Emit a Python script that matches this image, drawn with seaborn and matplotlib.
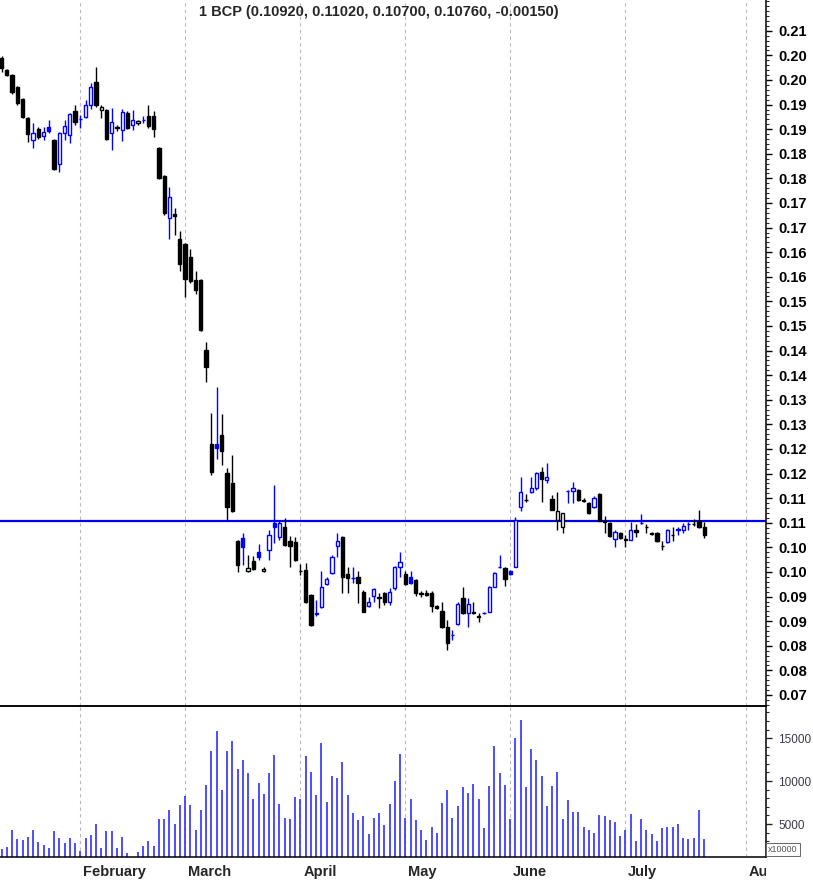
import numpy as np
import pandas as pd
import matplotlib
matplotlib.use('Agg')
import matplotlib.pyplot as plt
import seaborn as sns
from matplotlib.ticker import MultipleLocator, FixedLocator
from matplotlib.transforms import Bbox, TransformedBbox

# BCP daily prices, 13 Jan - 22 Jul 2020 (Euronext Lisbon trading days)
first_day = '2020-01-13'
last_day = '2020-07-22'
holidays = ['2020-04-10', '2020-04-13', '2020-05-01']

open_ = [0.2045, 0.2020, 0.2010, 0.1986, 0.1961, 0.1923, 0.1878, 0.1900, 0.1886, 0.1905,
         0.1878, 0.1829, 0.1893, 0.1888, 0.1937, 0.1920, 0.1925, 0.1949, 0.1996, 0.1939,
         0.1939, 0.1892, 0.1904, 0.1898, 0.1933, 0.1909, 0.1913, 0.1918, 0.1927, 0.1927,
         0.1862, 0.1805, 0.1720, 0.1728, 0.1677, 0.1667, 0.1640, 0.1594, 0.1594, 0.1451,
         0.1260, 0.1260, 0.1278, 0.1201, 0.1181, 0.1063, 0.1069, 0.1001, 0.1022, 0.1041,
         0.1003, 0.1045, 0.1099, 0.1072, 0.1091, 0.1062, 0.1060, 0.1002, 0.1004, 0.0953,
         0.0915, 0.0928, 0.0976, 0.0997, 0.1053, 0.1072, 0.0996, 0.0987, 0.0989, 0.0960,
         0.0931, 0.0951, 0.0949, 0.0958, 0.0940, 0.0967, 0.1011, 0.0996, 0.0989, 0.0984,
         0.0957, 0.0958, 0.0958, 0.0930, 0.0921, 0.0888, 0.0871, 0.0894, 0.0947, 0.0916,
         0.0918, 0.0910, 0.0916, 0.0919, 0.0970, 0.1010, 0.1008, 0.1001, 0.1011, 0.1132,
         0.1147, 0.1163, 0.1170, 0.1204, 0.1187, 0.1148, 0.1106, 0.1091, 0.1164, 0.1164,
         0.1167, 0.1146, 0.1140, 0.1132, 0.1159, 0.1104, 0.1099, 0.1067, 0.1079, 0.1067,
         0.1066, 0.1085, 0.1099, 0.1092, 0.1080, 0.1080, 0.1053, 0.1060, 0.1076, 0.1086,
         0.1085, 0.1097, 0.1098, 0.1104, 0.1092]
high = [0.2049, 0.2022, 0.2012, 0.1988, 0.1963, 0.1925, 0.1913, 0.1904, 0.1904, 0.1919,
        0.1880, 0.1894, 0.1919, 0.1933, 0.1949, 0.1929, 0.1959, 0.1994, 0.2026, 0.1949,
        0.1941, 0.1943, 0.1909, 0.1941, 0.1937, 0.1939, 0.1919, 0.1927, 0.1949, 0.1936,
        0.1864, 0.1807, 0.1783, 0.1740, 0.1693, 0.1669, 0.1657, 0.1612, 0.1596, 0.1467,
        0.1323, 0.1376, 0.1321, 0.1211, 0.1238, 0.1065, 0.1079, 0.1035, 0.1033, 0.1057,
        0.1011, 0.1085, 0.1177, 0.1106, 0.1110, 0.1073, 0.1072, 0.1016, 0.1018, 0.0955,
        0.0943, 0.1001, 0.0990, 0.1035, 0.1079, 0.1074, 0.1011, 0.1011, 0.1001, 0.0963,
        0.0950, 0.0967, 0.0957, 0.0960, 0.0967, 0.1012, 0.1041, 0.1001, 0.1001, 0.0986,
        0.0961, 0.0963, 0.0961, 0.0933, 0.0940, 0.0902, 0.0882, 0.0940, 0.0969, 0.0947,
        0.0938, 0.0916, 0.0919, 0.0972, 0.1000, 0.1035, 0.1011, 0.1004, 0.1111, 0.1194,
        0.1159, 0.1194, 0.1204, 0.1214, 0.1221, 0.1156, 0.1163, 0.1120, 0.1167, 0.1182,
        0.1169, 0.1150, 0.1142, 0.1154, 0.1160, 0.1114, 0.1102, 0.1085, 0.1082, 0.1075,
        0.1102, 0.1098, 0.1118, 0.1098, 0.1081, 0.1081, 0.1062, 0.1087, 0.1091, 0.1092,
        0.1099, 0.1102, 0.1108, 0.1125, 0.1102]
low = [0.2016, 0.2008, 0.1972, 0.1949, 0.1923, 0.1874, 0.1862, 0.1880, 0.1878, 0.1892,
       0.1817, 0.1813, 0.1878, 0.1872, 0.1909, 0.1902, 0.1923, 0.1941, 0.1945, 0.1923,
       0.1878, 0.1858, 0.1896, 0.1876, 0.1900, 0.1898, 0.1909, 0.1913, 0.1902, 0.1884,
       0.1799, 0.1726, 0.1677, 0.1685, 0.1612, 0.1559, 0.1587, 0.1565, 0.1490, 0.1386,
       0.1197, 0.1230, 0.1217, 0.1106, 0.1122, 0.1000, 0.1014, 0.0999, 0.1004, 0.1024,
       0.0999, 0.1024, 0.1058, 0.1065, 0.1053, 0.1011, 0.1022, 0.0994, 0.0937, 0.0890,
       0.0911, 0.0926, 0.0974, 0.0996, 0.1031, 0.0957, 0.0957, 0.0977, 0.0936, 0.0918,
       0.0929, 0.0940, 0.0926, 0.0933, 0.0933, 0.0963, 0.0990, 0.0974, 0.0975, 0.0951,
       0.0949, 0.0951, 0.0919, 0.0925, 0.0886, 0.0841, 0.0862, 0.0892, 0.0915, 0.0889,
       0.0915, 0.0899, 0.0915, 0.0918, 0.0969, 0.1008, 0.0972, 0.0994, 0.1010, 0.1123,
       0.1142, 0.1160, 0.1167, 0.1143, 0.1180, 0.1126, 0.1085, 0.1080, 0.1140, 0.1140,
       0.1144, 0.1142, 0.1118, 0.1130, 0.1103, 0.1079, 0.1071, 0.1050, 0.1067, 0.1050,
       0.1065, 0.1072, 0.1098, 0.1079, 0.1075, 0.1060, 0.1045, 0.1058, 0.1064, 0.1075,
       0.1079, 0.1085, 0.1093, 0.1089, 0.1070]
close = [0.2024, 0.2011, 0.1976, 0.1953, 0.1925, 0.1890, 0.1892, 0.1884, 0.1894, 0.1897,
         0.1819, 0.1892, 0.1907, 0.1931, 0.1915, 0.1921, 0.1949, 0.1986, 0.1949, 0.1945,
         0.1880, 0.1915, 0.1902, 0.1935, 0.1902, 0.1919, 0.1916, 0.1919, 0.1907, 0.1900,
         0.1801, 0.1730, 0.1762, 0.1724, 0.1626, 0.1596, 0.1591, 0.1573, 0.1492, 0.1417,
         0.1203, 0.1252, 0.1246, 0.1132, 0.1124, 0.1014, 0.1051, 0.1008, 0.1006, 0.1031,
         0.1007, 0.1075, 0.1091, 0.1099, 0.1055, 0.1053, 0.1024, 0.1001, 0.0940, 0.0892,
         0.0916, 0.0969, 0.0985, 0.1031, 0.1064, 0.0989, 0.0987, 0.0988, 0.0977, 0.0919,
         0.0940, 0.0965, 0.0948, 0.0940, 0.0960, 0.1011, 0.1021, 0.0976, 0.0978, 0.0957,
         0.0956, 0.0953, 0.0930, 0.0926, 0.0888, 0.0856, 0.0872, 0.0935, 0.0917, 0.0935,
         0.0917, 0.0909, 0.0917, 0.0969, 0.0997, 0.1011, 0.0985, 0.0996, 0.1106, 0.1163,
         0.1146, 0.1170, 0.1202, 0.1188, 0.1194, 0.1127, 0.1124, 0.1119, 0.1165, 0.1171,
         0.1146, 0.1145, 0.1119, 0.1150, 0.1104, 0.1102, 0.1073, 0.1081, 0.1069, 0.1066,
         0.1085, 0.1081, 0.1100, 0.1091, 0.1077, 0.1062, 0.1052, 0.1085, 0.1075, 0.1087,
         0.1093, 0.1098, 0.1097, 0.1091, 0.1076]
# volume in units of 10000 shares
volume = [2081, 2315, 4261, 3249, 3093, 3483, 4261, 2899, 2509, 2159,
          4145, 3327, 2782, 3327, 2782, 1886, 3327, 3678, 4963, 2159,
          4145, 4145, 2159, 3444, 1575, 1150, 1731, 2432, 3015, 2432,
          5546, 5546, 6675, 4963, 7259, 8310, 7259, 4339, 6675, 9556,
          13488, 15785, 8972, 13488, 14656, 11385, 12475, 10957, 7921, 9789,
          8505, 10957, 13060, 7337, 5741, 5624, 8154, 7921, 12943, 11074,
          8388, 14422, 7570, 10607, 10412, 12242, 8388, 6286, 5430, 5935,
          3833, 5741, 6325, 4845, 7337, 10023, 13137, 5702, 7921, 5430,
          4261, 3093, 4690, 3950, 7493, 9011, 5741, 7142, 9361, 8622,
          9673, 7921, 4495, 9478, 14111, 10957, 9556, 5624, 15006, 17147,
          9361, 13721, 12398, 10607, 7142, 9478, 11074, 5624, 7804, 6442,
          6442, 4690, 4261, 3950, 6091, 5974, 5430, 5196, 3560, 4261,
          6208, 3015, 5546, 4261, 3794, 3015, 4495, 4690, 4690, 4963,
          3327, 3210, 3327, 6675, 3210]

level_line = 0.1103
title = '1 BCP (0.10920, 0.11020, 0.10700, 0.10760, -0.00150)'
price_ticks = np.arange(0.075, 0.2101, 0.005)
price_labels = ['0.07', '0.08', '0.08', '0.09', '0.09', '0.10', '0.10', '0.11', '0.11', '0.12',
                '0.12', '0.13', '0.13', '0.14', '0.14', '0.15', '0.15', '0.16', '0.16', '0.17',
                '0.17', '0.18', '0.18', '0.19', '0.19', '0.20', '0.20', '0.21']
vol_ticks = [5000, 10000, 15000]
months = ['February', 'March', 'April', 'May', 'June', 'July', 'August']

# trading calendar (extended to August so the month ticks reach past the data)
cal = pd.bdate_range(first_day, '2020-08-31')
cal = cal[~cal.isin(pd.to_datetime(holidays))]
n = len(close)
df = pd.DataFrame({'date': cal[:n], 'open': open_, 'high': high, 'low': low,
                   'close': close, 'volume': volume})
df['x'] = np.arange(n)

cal_df = pd.DataFrame({'date': cal, 'x': np.arange(len(cal))})
month_pos = cal_df.groupby(cal_df['date'].dt.month)['x'].min().values[1:]
week_pos = cal_df.groupby(cal_df['date'].dt.isocalendar().week)['x'].min().values

sns.set_style('white')
plt.rcParams['font.family'] = ['Liberation Sans', 'DejaVu Sans']

fig = plt.figure(figsize=(8.13, 8.80), dpi=100)
ax = fig.add_axes([0.0, 0.19716, 0.94219, 0.80284])
axv = fig.add_axes([0.0, 0.02614, 0.94219, 0.17102], sharex=ax)
axv.patch.set_visible(False)

prev = df['close'].shift(1)
df['color'] = np.where(df['close'] > prev, '#0000ff', 'black')
df['fill'] = np.where(df['close'] < df['open'], df['color'], 'white')

# candles
ax.vlines(df['x'], df['low'], df['high'], colors=df['color'], lw=1.0, zorder=2)
body = (df['close'] - df['open']).abs().clip(lower=0.00005)
ax.bar(df['x'], body, bottom=df[['open', 'close']].min(axis=1), width=0.62,
       color=df['fill'], edgecolor=df['color'], linewidth=1.0, zorder=3)
ax.axhline(level_line, color='#0000ee', lw=1.6, zorder=1.5)

# volume
axv.vlines(df['x'], 0, df['volume'], colors='#2f2fff', lw=1.2, zorder=2)

for a in (ax, axv):
    for m in month_pos:
        a.axvline(m, color='#b8b8b8', ls=(0, (3, 3)), lw=0.8, zorder=0)
    for s in ('left', 'top'):
        a.spines[s].set_visible(False)
    for s in ('right', 'bottom'):
        a.spines[s].set_color('black')
        a.spines[s].set_linewidth(1.1)
    a.yaxis.tick_right()
axv.spines['top'].set_visible(True)
axv.spines['top'].set_color('black')
axv.spines['top'].set_linewidth(1.1)

ax.set_xlim(-0.31, 145.8)
ax.set_ylim(0.07266, 0.21626)
ax.set_yticks(price_ticks)
ax.set_yticklabels(price_labels, fontsize=10.5, fontweight='bold')
ax.yaxis.set_minor_locator(MultipleLocator(0.001))
ax.tick_params(axis='y', which='major', direction='out', length=4, width=1, pad=5, colors='black')
ax.tick_params(axis='y', which='minor', direction='out', length=2.5, width=0.8)
ax.tick_params(axis='x', which='both', bottom=False, labelbottom=False)

axv.set_ylim(1160, 18680)
axv.set_yticks(vol_ticks)
axv.set_yticklabels([str(v) for v in vol_ticks], fontsize=8.5, color='#3a3a4a')
axv.yaxis.set_minor_locator(MultipleLocator(1000))
axv.tick_params(axis='y', which='major', direction='out', length=4, width=1, pad=5)
axv.tick_params(axis='y', which='minor', direction='out', length=2.5, width=0.8)
axv.xaxis.set_major_locator(FixedLocator(month_pos))
axv.xaxis.set_minor_locator(FixedLocator(week_pos))
axv.tick_params(axis='x', which='major', direction='out', length=17, width=1, labelbottom=False)
axv.tick_params(axis='x', which='minor', direction='out', length=4, width=1)

clip = TransformedBbox(Bbox([[0, 0], [0.94219, 1]]), fig.transFigure)
for m, name in zip(month_pos, months):
    t = axv.annotate(name, xy=(m, 0), xycoords=('data', 'axes fraction'),
                     xytext=(2, -10.5), textcoords='offset points',
                     ha='left', va='center', fontsize=10.5, fontweight='bold')
    t.set_clip_on(True)
    t.set_clip_box(clip)

axv.text(1.003, 0.05, 'x10000', transform=axv.transAxes, fontsize=6.5, color='#555555',
         ha='left', va='center',
         bbox=dict(boxstyle='square,pad=0.2', fc='white', ec='#666666', lw=0.7))

fig.text(199 / 813, 1 - 12 / 880, title, ha='left', va='center',
         fontsize=10.5, fontweight='bold')

fig.savefig('out.png', dpi=100)
